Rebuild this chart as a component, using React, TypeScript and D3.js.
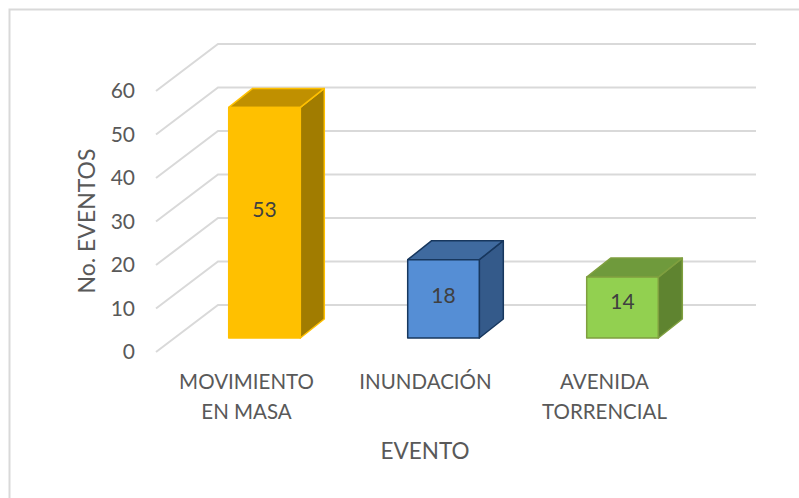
import React from 'react';
import * as d3 from 'd3';

const categories = ['MOVIMIENTO EN MASA', 'INUNDACIÓN', 'AVENIDA TORRENCIAL'];
const categoryLines = [['MOVIMIENTO', 'EN MASA'], ['INUNDACIÓN'], ['AVENIDA', 'TORRENCIAL']];
const values = [53, 18, 14];
const yTicks = [0, 10, 20, 30, 40, 50, 60];
const fronts = ['#ffc000', '#558ed5', '#92d050'];
const tops = ['#c09000', '#3f6a9f', '#6f9a3c'];
const sides = ['#a17c00', '#345a8a', '#5f8430'];
const strokes = ['#ffc000', '#17375e', '#7f9f3f'];

const width = 799;
const height = 498;
const font = 'Lato, sans-serif';
const textColor = '#595959';
const gridColor = '#d9d9d9';

// wall geometry
const wallDepth = { dx: 62, dy: 47 };
const barDepth = { dx: 24, dy: 19 };
const wallRight = 756;
// data labels don't sit dead centre on the 3d bars
const labelNudge = [-14, -4.5, -7];

export default function App() {
  const yWall = d3.scaleLinear().domain([0, 60]).range([352, 91]);
  const yBar = d3.scaleLinear().domain([0, 60]).range([338, 77]);
  const x = d3.scaleBand().domain(categories).range([175, 712]).paddingInner(0.6).paddingOuter(0.3);

  const wall = d3.line();

  return (
    <svg
      width={width}
      height={height}
      viewBox={`0 0 ${width} ${height}`}
      style={{ position: 'absolute', left: 0, top: 0, display: 'block' }}
    >
      <rect width={width} height={height} fill="#fff" />
      {/* chart frame */}
      <path d={`M9.5,${height}V9.5H${width}`} fill="none" stroke={gridColor} strokeWidth={2} />

      {/* gridlines: floor edge + back wall */}
      {yTicks.map(t => (
        <path
          key={t}
          d={wall([
            [156, yWall(t)],
            [156 + wallDepth.dx, yWall(t) - wallDepth.dy],
            [wallRight, yWall(t) - wallDepth.dy]
          ]) as string}
          fill="none"
          stroke={gridColor}
          strokeWidth={2}
        />
      ))}

      {/* y tick labels */}
      {yTicks.map(t => (
        <text key={t} x={135} y={yWall(t) - 1.5} textAnchor="end" dominantBaseline="central"
          fontFamily={font} fontSize={21} fill={textColor}>{t}</text>
      ))}

      {/* bars */}
      {categories.map((c, i) => {
        const x0 = x(c) as number;
        const x1 = x0 + x.bandwidth();
        const y0 = yBar(0);
        const y1 = yBar(values[i]);
        const { dx, dy } = barDepth;
        return (
          <g key={c} stroke={strokes[i]} strokeWidth={1.5} strokeLinejoin="round">
            <path d={wall([[x1, y1], [x1 + dx, y1 - dy], [x1 + dx, y0 - dy], [x1, y0]]) + 'Z'} fill={sides[i]} />
            <path d={wall([[x0, y1], [x0 + dx, y1 - dy], [x1 + dx, y1 - dy], [x1, y1]]) + 'Z'} fill={tops[i]} />
            <rect x={x0} y={y1} width={x1 - x0} height={y0 - y1} fill={fronts[i]} />
            <text x={(x0 + x1) / 2} y={(y0 + y1) / 2 + labelNudge[i]} textAnchor="middle" dominantBaseline="central"
              stroke="none" fontFamily={font} fontSize={21} fill="#404040">{values[i]}</text>
          </g>
        );
      })}

      {/* category labels */}
      {categories.map((c, i) => (
        <text key={c} textAnchor="middle" fontFamily={font} fontSize={20.5} fill={textColor}>
          {categoryLines[i].map((line, j) => (
            <tspan key={line} x={(x(c) as number) + x.bandwidth() / 2 - 18} y={389 + j * 30}>{line}</tspan>
          ))}
        </text>
      ))}

      {/* axis titles */}
      <text x={425} y={459} textAnchor="middle" fontFamily={font} fontSize={22.5} fill={textColor}>EVENTO</text>
      <text transform="translate(95,221) rotate(-90)" textAnchor="middle" fontFamily={font} fontSize={23} fill={textColor}>No. EVENTOS</text>
    </svg>
  );
}
